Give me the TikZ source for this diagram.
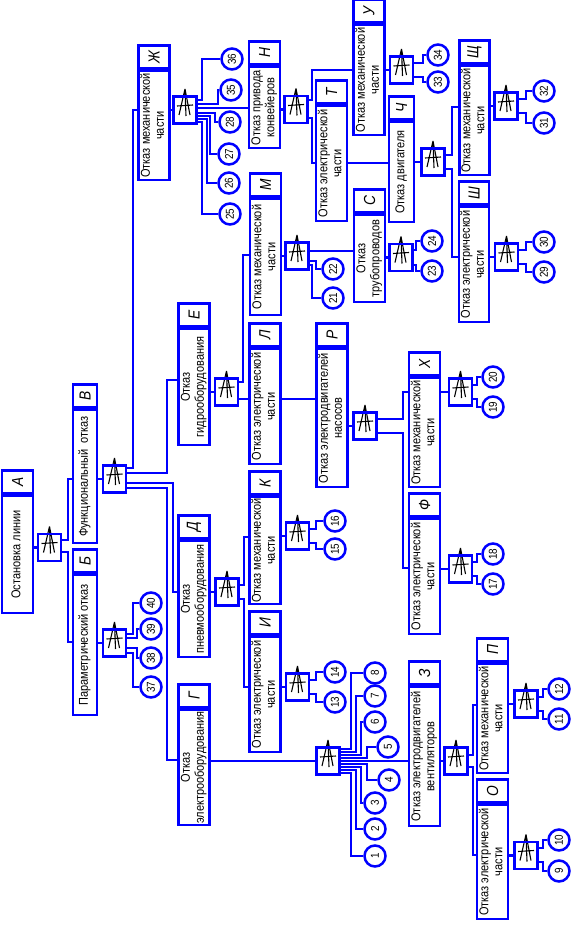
\documentclass[tikz,border=0pt]{standalone}
\usepackage{fontspec}
\setmainfont{Liberation Sans}
\newfontfamily\narrowfont{Liberation Sans}[FakeStretch=0.86]
\usetikzlibrary{positioning}
\definecolor{tree}{RGB}{0,0,255}
\newcommand{\boxfont}{\narrowfont\fontsize{12.8}{14}\selectfont}
\newcommand{\cellfont}{\narrowfont\itshape\fontsize{16}{16}\selectfont}
\newcommand{\numfont}{\narrowfont\fontsize{11.5}{11.5}\selectfont}
\newcommand{\vt}[1]{\rotatebox{90}{\begin{tabular}{@{}c@{}}#1\end{tabular}}}

\begin{document}
\begin{tikzpicture}[x=1pt, y=-1pt,
  wire/.style={draw=tree, line width=2.5pt},
  evt/.style={draw=tree, line width=2.5pt, minimum width=31pt, inner sep=0pt, font=\boxfont},
  cell/.style={evt, minimum height=23pt, font=\cellfont},
  gate/.style={draw=tree, line width=2.5pt, minimum width=23pt, minimum height=27pt, inner sep=0pt,
    append after command={\pgfextra{\draw[black, line width=1.1pt, shift={(\tikzlastnode.center)}]
      (0,-21) -- (-6,5) (0,-21) -- (5,5) (-8,-4) -- (8,-5) (0,-21) -- (1,6);}}},
  basic/.style={circle, draw=tree, line width=2.5pt, minimum size=21pt, inner sep=0pt, font=\numfont},
]
\path[fill=white] (0,0) rectangle (578,931);
\useasboundingbox (0,0) rectangle (578,931);

\node[evt, minimum height=117pt] (a) at (17.5,554.5) {\vt{Остановка линии}};
\node[cell, above=0pt of a] (a-l) {\rotatebox{90}{А}};
\node[evt, minimum width=24pt, minimum height=140pt] (b) at (85,645) {\vt{Параметрический отказ}};
\node[cell, minimum width=24pt, above=0pt of b] (b-l) {\rotatebox{90}{Б}};
\node[evt, minimum width=24pt, minimum height=133pt] (v) at (85,476.5) {\vt{Функциональный~~отказ}};
\node[cell, minimum width=24pt, above=0pt of v] (v-l) {\rotatebox{90}{В}};
\node[evt, minimum height=109pt] (zh) at (154,125.5) {\vt{Отказ механической\\части}};
\node[cell, above=0pt of zh] (zh-l) {\rotatebox{90}{Ж}};
\node[evt, minimum height=116pt] (e) at (194,387) {\vt{Отказ\\гидрооборудования}};
\node[cell, above=0pt of e] (e-l) {\rotatebox{90}{Е}};
\node[evt, minimum height=116pt] (d) at (194,599) {\vt{Отказ\\пневмооборудования}};
\node[cell, above=0pt of d] (d-l) {\rotatebox{90}{Д}};
\node[evt, minimum height=115pt] (g) at (194,767.5) {\vt{Отказ\\электрооборудования}};
\node[cell, above=0pt of g] (g-l) {\rotatebox{90}{Г}};
\node[evt, minimum height=81pt] (n) at (264.5,107.5) {\vt{Отказ привода\\конвейеров}};
\node[cell, above=0pt of n] (n-l) {\rotatebox{90}{Н}};
\node[evt, minimum height=116pt] (m) at (265.5,257) {\vt{Отказ механической\\части}};
\node[cell, above=0pt of m] (m-l) {\rotatebox{90}{М}};
\node[evt, minimum height=115pt] (l) at (265,406.5) {\vt{Отказ электрической\\части}};
\node[cell, above=0pt of l] (l-l) {\rotatebox{90}{Л}};
\node[evt, minimum height=107pt] (k) at (265,550.5) {\vt{Отказ механической\\части}};
\node[cell, above=0pt of k] (k-l) {\rotatebox{90}{К}};
\node[evt, minimum height=115pt] (i) at (265,694.5) {\vt{Отказ электрической\\части}};
\node[cell, above=0pt of i] (i-l) {\rotatebox{90}{И}};
\node[evt, minimum height=115pt] (t) at (331.5,163.5) {\vt{Отказ электрической\\части}};
\node[cell, above=0pt of t] (t-l) {\rotatebox{90}{Т}};
\node[evt, minimum height=87pt] (s) at (369.5,258.5) {\vt{Отказ\\трубопроводов}};
\node[cell, above=0pt of s] (s-l) {\rotatebox{90}{С}};
\node[evt, minimum height=138pt] (r) at (332,418) {\vt{Отказ электродвигателей\\насосов}};
\node[cell, above=0pt of r] (r-l) {\rotatebox{90}{Р}};
\node[evt, minimum height=110pt] (u) at (369,80) {\vt{Отказ механической\\части}};
\node[cell, above=0pt of u] (u-l) {\rotatebox{90}{У}};
\node[evt, minimum width=25pt, minimum height=100pt] (ch) at (401.5,172) {\vt{Отказ двигателя}};
\node[cell, minimum width=25pt, above=0pt of ch] (ch-l) {\rotatebox{90}{Ч}};
\node[evt, minimum height=109pt] (h) at (424.5,432.5) {\vt{Отказ механической\\части}};
\node[cell, above=0pt of h] (h-l) {\rotatebox{90}{Х}};
\node[evt, minimum height=115pt] (f) at (424.5,576.5) {\vt{Отказ электрической\\части}};
\node[cell, above=0pt of f] (f-l) {\rotatebox{90}{Ф}};
\node[evt, minimum height=139pt] (z) at (424.5,756.5) {\vt{Отказ электродвигателей\\вентиляторов}};
\node[cell, above=0pt of z] (z-l) {\rotatebox{90}{З}};
\node[evt, minimum width=30pt, minimum height=109pt] (shch) at (474.5,120.5) {\vt{Отказ механической\\части}};
\node[cell, minimum width=30pt, above=0pt of shch] (shch-l) {\rotatebox{90}{Щ}};
\node[evt, minimum width=30pt, minimum height=115pt] (sh) at (474,264.5) {\vt{Отказ электрической\\части}};
\node[cell, minimum width=30pt, above=0pt of sh] (sh-l) {\rotatebox{90}{Ш}};
\node[evt, minimum height=109pt] (p) at (492.5,718.5) {\vt{Отказ механической\\части}};
\node[cell, above=0pt of p] (p-l) {\rotatebox{90}{П}};
\node[evt, minimum height=114pt] (o) at (492.5,862) {\vt{Отказ электрической\\части}};
\node[cell, above=0pt of o] (o-l) {\rotatebox{90}{О}};

\node[gate] (ga) at (49.5,547.5) {};
\node[gate] (gb) at (114.5,643) {};
\node[gate] (gv) at (114.5,479) {};
\node[gate] (gzh) at (185,110) {};
\node[gate] (ge) at (226.5,392) {};
\node[gate] (gd) at (227,592) {};
\node[gate] (gg) at (328,761) {};
\node[gate] (gn) at (296,109.5) {};
\node[gate] (gm) at (297,256) {};
\node[gate] (gk) at (297.5,536) {};
\node[gate] (gi) at (297.5,687) {};
\node[gate] (gr) at (365,426) {};
\node[gate] (gu) at (401.5,70) {};
\node[gate] (gs) at (401,257.5) {};
\node[gate] (gch) at (433,162) {};
\node[gate] (gh) at (460.5,392) {};
\node[gate] (gf) at (460.5,569) {};
\node[gate] (gz) at (456,761) {};
\node[gate] (gshch) at (506,106) {};
\node[gate] (gsh) at (506.5,257) {};
\node[gate] (gp) at (526,704) {};
\node[gate] (go) at (526,855.5) {};

\node[basic] (c1) at (375,856) {\rotatebox{90}{1}};
\node[basic] (c2) at (375,829) {\rotatebox{90}{2}};
\node[basic] (c3) at (375,803) {\rotatebox{90}{3}};
\node[basic] (c4) at (389,780) {\rotatebox{90}{4}};
\node[basic] (c5) at (388,747) {\rotatebox{90}{5}};
\node[basic] (c6) at (375,722) {\rotatebox{90}{6}};
\node[basic] (c7) at (375,696) {\rotatebox{90}{7}};
\node[basic] (c8) at (375,673) {\rotatebox{90}{8}};
\node[basic] (c9) at (559,871) {\rotatebox{90}{9}};
\node[basic] (c10) at (559,840) {\rotatebox{90}{10}};
\node[basic] (c11) at (559,719) {\rotatebox{90}{11}};
\node[basic] (c12) at (559,689) {\rotatebox{90}{12}};
\node[basic] (c13) at (335,702) {\rotatebox{90}{13}};
\node[basic] (c14) at (335,672) {\rotatebox{90}{14}};
\node[basic] (c15) at (335,549) {\rotatebox{90}{15}};
\node[basic] (c16) at (335,521) {\rotatebox{90}{16}};
\node[basic] (c17) at (493,584) {\rotatebox{90}{17}};
\node[basic] (c18) at (493,554) {\rotatebox{90}{18}};
\node[basic] (c19) at (493,407) {\rotatebox{90}{19}};
\node[basic] (c20) at (493,377) {\rotatebox{90}{20}};
\node[basic] (c21) at (333,298) {\rotatebox{90}{21}};
\node[basic] (c22) at (333,269) {\rotatebox{90}{22}};
\node[basic] (c23) at (432,271) {\rotatebox{90}{23}};
\node[basic] (c24) at (432,241) {\rotatebox{90}{24}};
\node[basic] (c25) at (230,214) {\rotatebox{90}{25}};
\node[basic] (c26) at (229,183) {\rotatebox{90}{26}};
\node[basic] (c27) at (229,154) {\rotatebox{90}{27}};
\node[basic] (c28) at (230,122) {\rotatebox{90}{28}};
\node[basic] (c29) at (544,272) {\rotatebox{90}{29}};
\node[basic] (c30) at (544,242) {\rotatebox{90}{30}};
\node[basic] (c31) at (544,123) {\rotatebox{90}{31}};
\node[basic] (c32) at (544,91) {\rotatebox{90}{32}};
\node[basic] (c33) at (438,82) {\rotatebox{90}{33}};
\node[basic] (c34) at (438,55) {\rotatebox{90}{34}};
\node[basic] (c35) at (231,90) {\rotatebox{90}{35}};
\node[basic] (c36) at (232,59) {\rotatebox{90}{36}};
\node[basic] (c37) at (151,687) {\rotatebox{90}{37}};
\node[basic] (c38) at (151,658) {\rotatebox{90}{38}};
\node[basic] (c39) at (151,629) {\rotatebox{90}{39}};
\node[basic] (c40) at (151,603) {\rotatebox{90}{40}};

\draw[wire] (a.east |- ga) -- (ga.west);
\draw[wire] (ga.east |- 0,540) -| (68,479) -- (v.west |- 0,479);
\draw[wire] (ga.east |- 0,552) -| (68,642) -- (b.west |- 0,642);
\draw[wire] (b.east |- gb) -- (gb.west);
\draw[wire] (gb.east |- 0,634) -| (133,603) -- (c40);
\draw[wire] (gb.east |- 0,638) -| (137,629) -- (c39);
\draw[wire] (gb.east |- 0,648) -| (137,658) -- (c38);
\draw[wire] (gb.east |- 0,653) -| (133,687) -- (c37);
\draw[wire] (v.east |- gv) -- (gv.west);
\draw[wire] (gv.east |- 0,468) -| (133,110) -- (zh.west |- 0,110);
\draw[wire] (gv.east |- 0,473) -| (167,380) -- (e.west |- 0,380);
\draw[wire] (gv.east |- 0,483) -| (173,592) -- (d.west |- 0,592);
\draw[wire] (gv.east |- 0,488) -| (167,760) -- (g.west |- 0,760);
\draw[wire] (zh.east |- gzh) -- (gzh.west);
\draw[wire] (gzh.east |- 0,100) -| (202,59) -- (c36);
\draw[wire] (gzh.east |- 0,104) -| (218,90) -- (c35);
\draw[wire] (gzh.east |- 0,108) -- (n.west |- 0,108);
\draw[wire] (gzh.east |- 0,113) -| (215,122) -- (c28);
\draw[wire] (gzh.east |- 0,116) -| (210,154) -- (c27);
\draw[wire] (gzh.east |- 0,119) -| (207,183) -- (c26);
\draw[wire] (gzh.east |- 0,122) -| (202,214) -- (c25);
\draw[wire] (n.east |- gn) -- (gn.west);
\draw[wire] (gn.east |- 0,100) -| (312,70) -- (u.west |- 0,70);
\draw[wire] (gn.east |- 0,118) -| (312,163) -- (t.west |- 0,163);
\draw[wire] (u.east |- gu) -- (gu.west);
\draw[wire] (gu.east |- 0,63) -| (423,55) -- (c34);
\draw[wire] (gu.east |- 0,77) -| (423,82) -- (c33);
\draw[wire] (t.east |- 0,163) -- (ch.west |- 0,163);
\draw[wire] (ch.east |- gch) -- (gch.west);
\draw[wire] (gch.east |- 0,155) -| (452,107) -- (shch.west |- 0,107);
\draw[wire] (gch.east |- 0,169) -| (452,257) -- (sh.west |- 0,257);
\draw[wire] (shch.east |- gshch) -- (gshch.west);
\draw[wire] (gshch.east |- 0,99) -| (526,91) -- (c32);
\draw[wire] (gshch.east |- 0,113) -| (526,123) -- (c31);
\draw[wire] (sh.east |- gsh) -- (gsh.west);
\draw[wire] (gsh.east |- 0,250) -| (526,242) -- (c30);
\draw[wire] (gsh.east |- 0,264) -| (526,272) -- (c29);
\draw[wire] (e.east |- ge) -- (ge.west);
\draw[wire] (ge.east |- 0,382) -| (243,255) -- (m.west |- 0,255);
\draw[wire] (ge.east |- 0,399) -- (l.west |- 0,399);
\draw[wire] (m.east |- gm) -- (gm.west);
\draw[wire] (gm.east |- 0,251) -- (s.west |- 0,251);
\draw[wire] (gm.east |- 0,261) -| (316,269) -- (c22);
\draw[wire] (gm.east |- 0,265) -| (312,298) -- (c21);
\draw[wire] (s.east |- gs) -- (gs.west);
\draw[wire] (gs.east |- 0,250) -| (416,241) -- (c24);
\draw[wire] (gs.east |- 0,265) -| (416,271) -- (c23);
\draw[wire] (l.east |- 0,399) -- (r.west |- 0,399);
\draw[wire] (r.east |- gr) -- (gr.west);
\draw[wire] (gr.east |- 0,419) -| (403,392) -- (h.west |- 0,392);
\draw[wire] (gr.east |- 0,433) -| (403,568) -- (f.west |- 0,568);
\draw[wire] (h.east |- gh) -- (gh.west);
\draw[wire] (gh.east |- 0,385) -| (477,377) -- (c20);
\draw[wire] (gh.east |- 0,399) -| (477,407) -- (c19);
\draw[wire] (f.east |- gf) -- (gf.west);
\draw[wire] (gf.east |- 0,562) -| (477,554) -- (c18);
\draw[wire] (gf.east |- 0,576) -| (477,584) -- (c17);
\draw[wire] (d.east |- gd) -- (gd.west);
\draw[wire] (gd.east |- 0,585) -| (244,537) -- (k.west |- 0,537);
\draw[wire] (gd.east |- 0,599) -| (244,687) -- (i.west |- 0,687);
\draw[wire] (k.east |- gk) -- (gk.west);
\draw[wire] (gk.east |- 0,529) -| (316,521) -- (c16);
\draw[wire] (gk.east |- 0,543) -| (316,549) -- (c15);
\draw[wire] (i.east |- gi) -- (gi.west);
\draw[wire] (gi.east |- 0,680) -| (316,672) -- (c14);
\draw[wire] (gi.east |- 0,694) -| (316,702) -- (c13);
\draw[wire] (g.east |- gg) -- (gg.west);
\draw[wire] (gg.east |- 0,749) -| (351,673) -- (c8);
\draw[wire] (gg.east |- 0,752) -| (356,696) -- (c7);
\draw[wire] (gg.east |- 0,755) -| (361,722) -- (c6);
\draw[wire] (gg.east |- 0,758) -| (367,747) -- (c5);
\draw[wire] (gg.east |- 0,761) -- (z.west |- 0,761);
\draw[wire] (gg.east |- 0,764) -| (367,780) -- (c4);
\draw[wire] (gg.east |- 0,767) -| (361,803) -- (c3);
\draw[wire] (gg.east |- 0,770) -| (356,829) -- (c2);
\draw[wire] (gg.east |- 0,773) -| (351,856) -- (c1);
\draw[wire] (z.east |- gz) -- (gz.west);
\draw[wire] (gz.east |- 0,755) -| (473,705) -- (p.west |- 0,705);
\draw[wire] (gz.east |- 0,767) -| (473,855) -- (o.west |- 0,855);
\draw[wire] (p.east |- gp) -- (gp.west);
\draw[wire] (gp.east |- 0,697) -| (543,689) -- (c12);
\draw[wire] (gp.east |- 0,711) -| (543,719) -- (c11);
\draw[wire] (o.east |- go) -- (go.west);
\draw[wire] (go.east |- 0,848) -| (543,840) -- (c10);
\draw[wire] (go.east |- 0,862) -| (543,871) -- (c9);
\end{tikzpicture}
\end{document}
